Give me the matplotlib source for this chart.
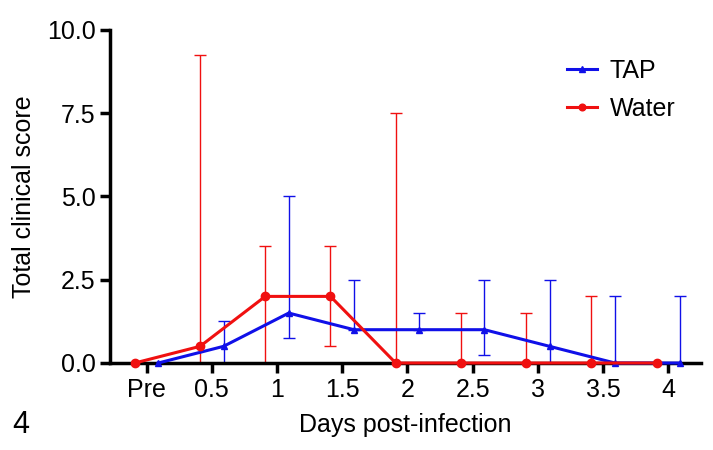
import numpy as np
import matplotlib.pyplot as plt

plt.rcParams['font.family'] = ['Liberation Sans', 'DejaVu Sans']

# time points (Pre = 0)
days = [0, 0.5, 1, 1.5, 2, 2.5, 3, 3.5, 4]
day_labels = ['Pre', '0.5', '1', '1.5', '2', '2.5', '3', '3.5', '4']

# medians with range
tap_med = [0, 0.5, 1.5, 1.0, 1.0, 1.0, 0.5, 0, 0]
tap_low = [0, 0, 0.75, 1.0, 1.0, 0.25, 0, 0, 0]
tap_high = [0, 1.25, 5.0, 2.5, 1.5, 2.5, 2.5, 2.0, 2.0]

water_med = [0, 0.5, 2.0, 2.0, 0, 0, 0, 0, 0]
water_low = [0, 0, 0, 0.5, 0, 0, 0, 0, 0]
water_high = [0, 9.25, 3.5, 3.5, 7.5, 1.5, 1.5, 2.0, 0]

shift = 0.09
blue = '#1010e8'
red = '#f01010'

fig = plt.figure(figsize=(7.13, 4.5), dpi=100)
ax = fig.add_axes([110/713, 87/450, 591/713, 333/450])

x = np.array(days)
for xs, med, lo, hi, col, mk, ms, lab in [
        (x + shift, tap_med, tap_low, tap_high, blue, '^', 5, 'TAP'),
        (x - shift, water_med, water_low, water_high, red, 'o', 6, 'Water')]:
    med = np.array(med)
    yerr = [med - np.array(lo), np.array(hi) - med]
    ax.errorbar(xs, med, yerr=yerr, fmt='none', ecolor=col, elinewidth=1,
                capsize=4, capthick=1, clip_on=False, zorder=2)
    ax.plot(xs, med, color=col, lw=2.2, marker=mk, ms=ms, label=lab,
            clip_on=False, zorder=3)

ax.set_xlim(-0.28, 4.25)
ax.set_ylim(0, 10)
ax.set_xticks(days)
ax.set_xticklabels(day_labels)
ax.set_yticks([0, 2.5, 5, 7.5, 10])
ax.set_yticklabels(['0.0', '2.5', '5.0', '7.5', '10.0'])

for s in ['top', 'right']:
    ax.spines[s].set_visible(False)
for s in ['left', 'bottom']:
    ax.spines[s].set_linewidth(2.5)
ax.tick_params(width=2.5, length=7, labelsize=18, direction='out')

ax.set_xlabel('Days post-infection', fontsize=18, labelpad=8)
ax.set_ylabel('Total clinical score', fontsize=18, labelpad=8)

leg = ax.legend(loc='upper right', bbox_to_anchor=(0.995, 0.98), frameon=False,
                fontsize=18, handlelength=1.2, handletextpad=0.5,
                labelspacing=0.55, markerscale=0.8)

fig.text(12/713, 25/450, '4', fontsize=22, va='center')

fig.savefig('out.png', dpi=100)
